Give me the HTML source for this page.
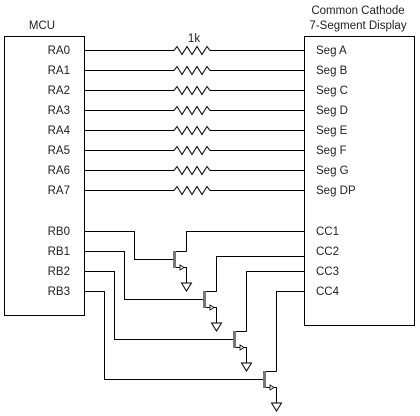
<!DOCTYPE html>
<html><head><meta charset="utf-8"><style>
html,body{margin:0;padding:0;background:#fff;}
svg{display:block;}
text{font-family:"Liberation Sans",Arial,sans-serif;font-size:11.5px;fill:#222;}
</style></head><body>
<svg width="420" height="416" viewBox="0 0 420 416" xmlns="http://www.w3.org/2000/svg">
<defs>
<g id="res"><polyline points="84,0 174,0 177,-4 182,4 187,-4 192,4 197,-4 202,4 207,-4 210,0 304,0" fill="none" stroke="#000" stroke-width="1"/></g>
<g id="tr">
  <rect x="173" y="251" width="3" height="17" fill="#777"/>
  <polyline points="176,251.5 186.5,251.5" fill="none" stroke="#000"/>
  <polyline points="176,267.5 186.5,267.5 186.5,283" fill="none" stroke="#000"/>
  <polygon points="180,265 184,267.5 180,270" fill="#fff" stroke="#000" stroke-width="0.8"/>
  <polygon points="181.5,283 191.5,283 186.5,291" fill="#fff" stroke="#000"/>
</g>
</defs>
<text x="42" y="29" text-anchor="middle">MCU</text>
<text x="358" y="14" text-anchor="middle">Common Cathode</text>
<text x="358" y="29" text-anchor="middle">7-Segment Display</text>
<text x="194" y="42" text-anchor="middle">1k</text>
<rect x="4.5" y="36.5" width="80" height="279" fill="none" stroke="#000"/>
<rect x="304.5" y="36.5" width="110" height="289" fill="none" stroke="#000"/>
<use href="#res" y="50.5"/><use href="#res" y="70.5"/><use href="#res" y="90.5"/><use href="#res" y="110.5"/>
<use href="#res" y="130.5"/><use href="#res" y="150.5"/><use href="#res" y="170.5"/><use href="#res" y="190.5"/>
<g text-anchor="end">
<text x="70" y="54">RA0</text><text x="70" y="74">RA1</text><text x="70" y="94">RA2</text><text x="70" y="114">RA3</text>
<text x="70" y="134">RA4</text><text x="70" y="154">RA5</text><text x="70" y="174">RA6</text><text x="70" y="194">RA7</text>
<text x="70" y="235">RB0</text><text x="70" y="255">RB1</text><text x="70" y="275">RB2</text><text x="70" y="295">RB3</text>
</g>
<text x="316" y="54">Seg A</text><text x="316" y="74">Seg B</text><text x="316" y="94">Seg C</text><text x="316" y="114">Seg D</text>
<text x="316" y="134">Seg E</text><text x="316" y="154">Seg F</text><text x="316" y="174">Seg G</text><text x="316" y="194">Seg DP</text>
<text x="316" y="235">CC1</text><text x="316" y="255">CC2</text><text x="316" y="275">CC3</text><text x="316" y="295">CC4</text>
<g fill="none" stroke="#000">
<polyline points="84,231.5 134.5,231.5 134.5,259.5 173,259.5"/>
<polyline points="84,251.5 124.5,251.5 124.5,299.5 203,299.5"/>
<polyline points="84,271.5 114.5,271.5 114.5,339.5 233,339.5"/>
<polyline points="84,291.5 104.5,291.5 104.5,379.5 263,379.5"/>
<polyline points="186.5,251.5 186.5,231.5 304,231.5"/>
<polyline points="216.5,291.5 216.5,256.5 304,256.5"/>
<polyline points="246.5,331.5 246.5,271.5 304,271.5"/>
<polyline points="276.5,371.5 276.5,291.5 304,291.5"/>
</g>
<use href="#tr"/>
<use href="#tr" x="30" y="40"/>
<use href="#tr" x="60" y="80"/>
<use href="#tr" x="90" y="120"/>
</svg>
</body></html>
